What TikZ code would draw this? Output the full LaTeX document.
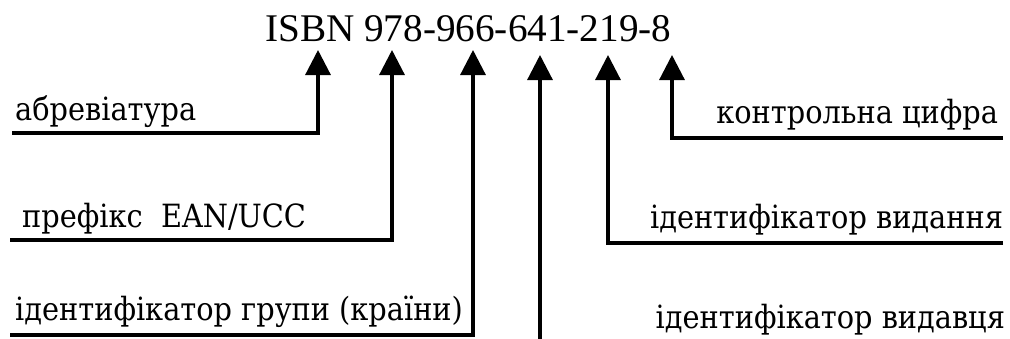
\documentclass[tikz,border=0pt]{standalone}
\usepackage{fontspec}
\newfontfamily\isbnfont{LiberationSerif-Regular.ttf}
\newfontfamily\lblfont{DejaVu Serif Condensed}
\usetikzlibrary{arrows.meta}
\begin{document}
\begin{tikzpicture}[x=1pt, y=-1pt,
  ptr/.style={line width=3.2pt, -{Triangle[length=25pt,width=25pt]}},
  lbl/.style={inner sep=0pt, font=\lblfont\fontsize{32}{36}\selectfont}]
\useasboundingbox (0,0) rectangle (1010,338);
\node [inner sep=0pt, anchor=base west, font=\isbnfont\fontsize{39.2}{44}\selectfont] (isbn) at (265,41) {ISBN 978-966-641-219-8};

% arrow tips under the number
\coordinate (t1) at (318,50);
\coordinate (t2) at (392,50);
\coordinate (t3) at (473,50);
\coordinate (t4) at (540,55);
\coordinate (t5) at (608,55);
\coordinate (t6) at (672,55);

\node [lbl, anchor=base west] (abbr) at (15,120) {абревіатура};
\node [lbl, anchor=base west] (prefix) at (22,227) {префікс\ \ EAN/UCC};
\node [lbl, anchor=base west] (group) at (15,320) {ідентифікатор групи (країни)};
\node [lbl, anchor=base east] (check) at (998,123) {контрольна цифра};
\node [lbl, anchor=base east] (edition) at (1003,228) {ідентифікатор видання};
\node [lbl, anchor=base east] (publisher) at (1005,328) {ідентифікатор видавця};

% free ends of the lines
\coordinate (a0) at (12,133);
\coordinate (b0) at (10,240);
\coordinate (c0) at (10,335);
\coordinate (d0) at (540,340);
\coordinate (e0) at (1003,243);
\coordinate (f0) at (1003,138);

\draw [ptr] (a0) -| (t1);
\draw [ptr] (b0) -| (t2);
\draw [ptr] (c0) -| (t3);
\draw [ptr] (d0) -- (t4);
\draw [ptr] (e0) -| (t5);
\draw [ptr] (f0) -| (t6);
\end{tikzpicture}
\end{document}
